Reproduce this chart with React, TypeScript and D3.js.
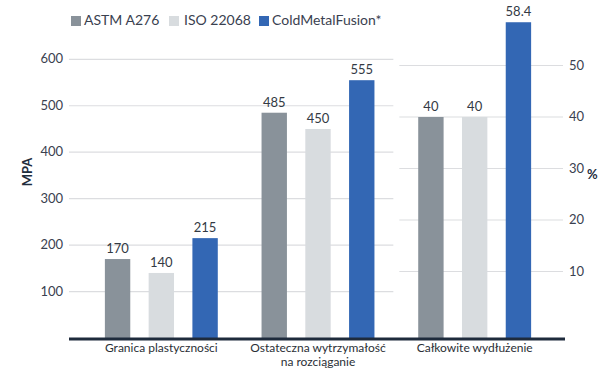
import React from "react";
import * as d3 from "d3";

const categories = [
  ["Granica plastyczności"],
  ["Ostateczna wytrzymałość", "na rozciąganie"],
  ["Całkowite wydłużenie"],
];
const series = ["ASTM A276", "ISO 22068", "ColdMetalFusion*"];
const colors = ["#89929a", "#d8dcdf", "#3367b4"];
// values per series, one per category (last category is in %)
const astm = [170, 485, 40];
const iso = [140, 450, 40];
const cmf = [215, 555, 58.4];
const labels = [
  ["170", "485", "40"],
  ["140", "450", "40"],
  ["215", "555", "58.4"],
];
const leftTicks = [100, 200, 300, 400, 500, 600];
const rightTicks = [10, 20, 30, 40, 50];

const W = 598;
const H = 368;
const font = "Lato, 'Open Sans', sans-serif";

const App = () => {
  const values = [astm, iso, cmf];
  const catKeys = categories.map((c) => c.join(" "));

  const x0 = d3.scaleBand<string>().domain(catKeys).range([83, 553]).padding(0);
  const x1 = d3
    .scaleBand<string>()
    .domain(series)
    .range([0, x0.bandwidth()])
    .paddingInner(0.42)
    .paddingOuter(0.5);

  const base = 338;
  const yL = d3.scaleLinear().domain([0, 600]).range([base, 59.3]);
  const yR = d3.scaleLinear().domain([0, 60]).range([323, 14]);

  const split = x0(catKeys[2])!;
  const gridLeft = [69, split - 3];
  const gridRight = [split + 3, 563];

  return (
    <svg
      width={W}
      height={H}
      style={{ position: "absolute", left: 0, top: 0, background: "#fff" }}
      fontFamily={font}
    >
      {/* legend */}
      <g>
        {[
          [71, 84],
          [169, 184],
          [259, 272],
        ].map(([sx, tx], i) => (
          <g key={series[i]}>
            <rect x={sx} y={16} width={10} height={10} fill={colors[i]} />
            <text x={tx} y={25} fontSize={14} fill="#3a4150">
              {series[i]}
            </text>
          </g>
        ))}
      </g>

      {/* gridlines left */}
      {leftTicks.map((t) => (
        <g key={"l" + t}>
          <line
            x1={gridLeft[0]}
            x2={gridLeft[1]}
            y1={yL(t)}
            y2={yL(t)}
            stroke="#dcdde0"
            strokeWidth={1.2}
          />
          <text
            x={63}
            y={yL(t) + 4}
            textAnchor="end"
            fontSize={13}
            fill="#3a4150"
          >
            {t}
          </text>
        </g>
      ))}

      {/* gridlines right */}
      {rightTicks.map((t) => (
        <g key={"r" + t}>
          <line
            x1={gridRight[0]}
            x2={gridRight[1]}
            y1={yR(t)}
            y2={yR(t)}
            stroke="#dcdde0"
            strokeWidth={1.2}
          />
          <text x={569} y={yR(t) + 4} fontSize={13} fill="#3a4150">
            {t}
          </text>
        </g>
      ))}

      {/* axis titles */}
      <text
        transform={`translate(32,172) rotate(-90)`}
        textAnchor="middle"
        fontSize={13}
        fontWeight="bold"
        fill="#1f2d3d"
      >
        MPA
      </text>
      <text x={587} y={yR(30) + 10} fontSize={13} fontWeight="bold" fill="#1f2d3d">
        %
      </text>

      {/* bars */}
      {catKeys.map((c, ci) => (
        <g key={c} transform={`translate(${x0(c)},0)`}>
          {series.map((s, si) => {
            const v = values[si][ci];
            const top = ci === 2 ? yR(v) : yL(v);
            const bx = x1(s)!;
            return (
              <g key={s}>
                <rect
                  x={bx}
                  y={top}
                  width={x1.bandwidth()}
                  height={base - top}
                  fill={colors[si]}
                />
                <text
                  x={bx + x1.bandwidth() / 2}
                  y={top - 6}
                  textAnchor="middle"
                  fontSize={13}
                  fill="#333a44"
                >
                  {labels[si][ci]}
                </text>
              </g>
            );
          })}
        </g>
      ))}

      {/* baseline */}
      <line x1={69} x2={565} y1={base + 1} y2={base + 1} stroke="#1e2b3c" strokeWidth={3} />

      {/* category labels */}
      {categories.map((lines, ci) => (
        <text
          key={catKeys[ci]}
          x={x0(catKeys[ci])! + x0.bandwidth() / 2}
          y={352}
          textAnchor="middle"
          fontSize={12}
          fill="#2b2f36"
        >
          {lines.map((l, li) => (
            <tspan key={l} x={x0(catKeys[ci])! + x0.bandwidth() / 2} dy={li === 0 ? 0 : 13.5}>
              {l}
            </tspan>
          ))}
        </text>
      ))}
    </svg>
  );
};

export default App;
